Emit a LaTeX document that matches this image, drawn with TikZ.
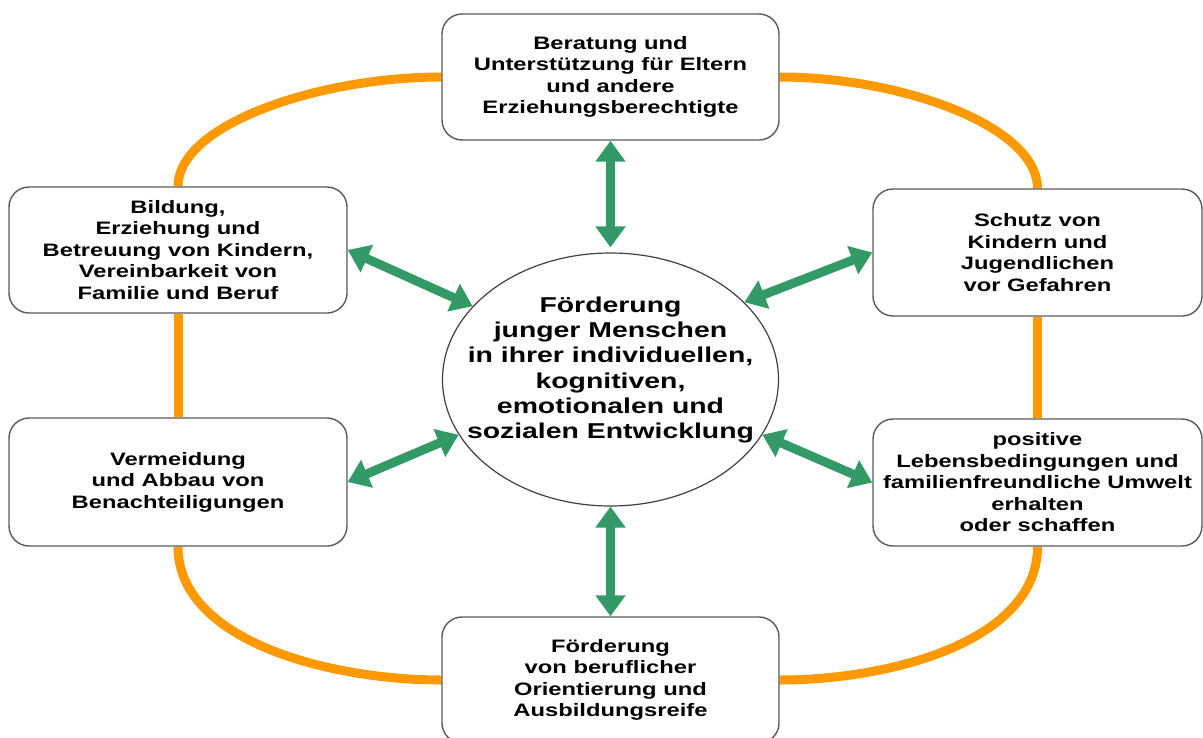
\documentclass[tikz,border=0pt]{standalone}
\usepackage{fontspec}
\setmainfont{Liberation Sans}[FakeStretch=1.32]
\usetikzlibrary{arrows.meta,shapes.geometric,backgrounds}
\definecolor{orng}{RGB}{255,153,0}
\definecolor{grn}{RGB}{51,153,102}
\definecolor{bord}{RGB}{90,90,90}
\tikzset{
  box/.style={draw=bord, line width=1.4pt, fill=white, rounded corners=20pt,
    minimum width=337pt, minimum height=126pt, align=center, inner sep=0pt,
    font=\fontsize{18}{21.5}\selectfont\bfseries},
  link/.style={draw=orng, line width=9pt},
  twoway/.style={draw=grn, line width=9pt,
    {Triangle[width=29pt,length=21pt]}-{Triangle[width=29pt,length=21pt]}},
}
\begin{document}
\begin{tikzpicture}[x=1pt,y=-1pt]
\useasboundingbox (0,0) rectangle (1203,737);
\node[box] (t) at (610.5,77) {Beratung und\\Unterstützung für Eltern\\und andere\\Erziehungsberechtigte};
\node[box, minimum width=338pt] (lu) at (178,250) {Bildung,\\Erziehung und\\Betreuung von Kindern,\\Vereinbarkeit von\\Familie und Beruf};
\node[box, minimum width=338pt, minimum height=128pt] (ll) at (178,482) {Vermeidung\\und Abbau von\\Benachteiligungen};
\node[box, minimum width=329pt, minimum height=127pt] (ru) at (1037.5,252.5) {Schutz von\\Kindern und\\Jugendlichen\\vor Gefahren};
\node[box, minimum width=329pt, minimum height=127pt] (rl) at (1037.5,482.5) {positive\\Lebensbedingungen und\\familienfreundliche Umwelt\\erhalten\\oder schaffen};
\node[box] (b) at (610.5,680) {Förderung\\von beruflicher\\Orientierung und\\Ausbildungsreife};
\node[ellipse, draw=black!75, line width=1.2pt, fill=white, minimum width=336pt,
  minimum height=253pt, inner sep=0pt] (c) at (610.5,379.5) {};
\node[font=\fontsize{21.5}{25.2}\selectfont\bfseries, align=center] (ct) at (610.5,370)
  {Förderung\\junger Menschen\\in ihrer individuellen,\\kognitiven,\\emotionalen und\\sozialen Entwicklung};
\begin{scope}[on background layer]
\draw[link] (t.west) .. controls +(-122,0) and +(0,-62) .. (lu.north);
\draw[link] (t.east) .. controls +(122,0) and +(0,-62) .. (ru.north);
\draw[link] (lu.south) -- (ll.north);
\draw[link] (ru.south) -- (rl.north);
\draw[link] (ll.south) .. controls +(0,94) and +(-112,0) .. (b.west);
\draw[link] (rl.south) .. controls +(0,94) and +(112,0) .. (b.east);
\end{scope}
\draw[twoway, shorten >=5pt] (t.south) -- (c.north);
\draw[twoway] (b.north) -- (c.south);
\draw[twoway] (lu.east) -- (c.152);
\draw[twoway] (ru.west) -- (c.30);
\draw[twoway] (ll.east) -- (c.200);
\draw[twoway] (rl.west) -- (c.340);
\end{tikzpicture}
\end{document}
